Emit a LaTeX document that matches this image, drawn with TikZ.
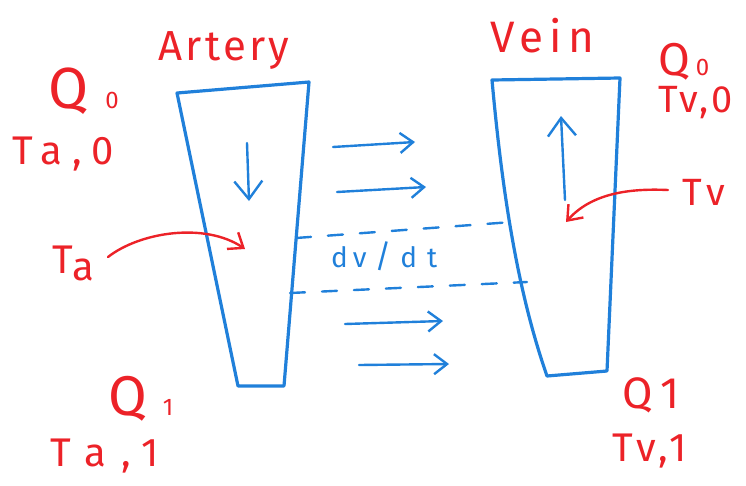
\documentclass[tikz,border=0pt]{standalone}
\usepackage{fontspec}
\setmainfont{Fira Sans}
\newfontfamily\handA[LetterSpace=8]{Fira Sans}
\newfontfamily\handB[LetterSpace=14]{Fira Sans}
\newfontfamily\handC[LetterSpace=25]{Fira Sans}
\newfontfamily\handD[LetterSpace=38]{Fira Sans}
\newfontfamily\handE[LetterSpace=12]{Fira Sans}
\newfontfamily\handF[LetterSpace=15]{Fira Sans}
\newfontfamily\handG[LetterSpace=30]{Fira Sans}
\usetikzlibrary{arrows.meta}
\definecolor{hred}{RGB}{236,34,40}
\definecolor{hblue}{RGB}{32,128,218}
\tikzset{
  vessel/.style={draw=hblue,line width=3.2pt,line join=round,line cap=round},
  flow/.style={hblue,line width=2.4pt,line cap=round,-{Straight Barb[length=13pt,width=20pt,line width=2.4pt]}},
  inner/.style={hblue,line width=2.4pt,line cap=round,-{Straight Barb[length=18pt,width=28pt,line width=2.4pt]}},
  pointer/.style={hred,line width=2.4pt,line cap=round,-{Straight Barb[length=13pt,width=20pt,line width=2.4pt]}},
  exch/.style={hblue,line width=2.4pt,line cap=round,dash pattern=on 15pt off 17pt},
  lbl/.style={text=hred,inner sep=0pt,anchor=base west},
}
\newcommand{\smallo}{{\fontsize{24}{24}\selectfont 0}}
\newcommand{\smallone}{{\fontsize{24}{24}\selectfont 1}}
\begin{document}
\begin{tikzpicture}[x=1pt,y=-1pt]
\useasboundingbox (0,0) rectangle (746,485);
% artery corners
\coordinate (aTL) at (177,93);
\coordinate (aTR) at (309,82);
\coordinate (aBR) at (284,386);
\coordinate (aBL) at (238,386);
% vein corners
\coordinate (vTL) at (492,80);
\coordinate (vTR) at (620,78);
\coordinate (vBR) at (607,371);
\coordinate (vBL) at (547,376);
\draw[vessel] (aTL) -- (aTR) -- (aBR) -- (aBL) -- cycle;
\draw[vessel] (vTR) -- (vTL) .. controls (502,190) and (517,290) .. (vBL) -- (vBR) -- cycle;
% flow inside vessels
\coordinate (aIn1) at (247,143); \coordinate (aIn2) at (249,201);
\draw[inner] (aIn1) -- (aIn2);
\coordinate (vIn1) at (565,200); \coordinate (vIn2) at (561,116);
\draw[inner] (vIn1) -- (vIn2);
% flow arrows between
\coordinate (f1a) at (333,147); \coordinate (f1b) at (415,142);
\coordinate (f2a) at (337,192); \coordinate (f2b) at (426,187);
\coordinate (f3a) at (345,324); \coordinate (f3b) at (443,321);
\coordinate (f4a) at (359,365); \coordinate (f4b) at (449,364);
\draw[flow] (f1a) -- (f1b);
\draw[flow] (f2a) -- (f2b);
\draw[flow] (f3a) -- (f3b);
\draw[flow] (f4a) -- (f4b);
% dashed control volume
\coordinate (d1a) at (296,238); \coordinate (d1b) at (512,222);
\coordinate (d2a) at (290,293); \coordinate (d2b) at (527,282);
\draw[exch] (d1a) -- (d1b);
\draw[exch] (d2a) -- (d2b);
\node[text=hblue,inner sep=0pt,anchor=base west,font=\fontsize{28}{28}\selectfont] (dvdt) at (331,267) {d\hspace{5pt}v\hspace{8pt}{\fontsize{32}{32}\selectfont /}\hspace{9pt}d\hspace{10pt}t};
% labels
\node[lbl,font=\handA\fontsize{42}{42}\selectfont] (artery) at (158,60) {Artery};
\node[lbl,font=\handB\fontsize{44}{44}\selectfont] (vein) at (490,52) {Vein};
\node[lbl,font=\fontsize{58}{58}\selectfont] (qa0) at (48,108) {Q\hspace{17pt}\smallo};
\node[lbl,font=\handC\fontsize{40}{40}\selectfont] (ta0) at (12,164) {Ta,0};
\node[lbl,font=\handG\fontsize{40}{40}\selectfont] (ta) at (52,273) {T\raisebox{-7pt}{a}};
\node[lbl,font=\fontsize{56}{56}\selectfont] (qa1) at (108,415) {Q\hspace{16pt}\smallone};
\node[lbl,font=\handD\fontsize{40}{40}\selectfont] (ta1) at (50,466) {Ta,1};
\node[lbl,font=\fontsize{46}{46}\selectfont] (qv0) at (658,75) {Q\hspace{6pt}\smallo};
\node[lbl,font=\handA\fontsize{38}{38}\selectfont] (tv0) at (658,112) {Tv,0};
\node[lbl,font=\handF\fontsize{38}{38}\selectfont] (tv) at (682,205) {Tv};
\node[lbl,font=\fontsize{44}{44}\selectfont] (qv1) at (622,408) {Q\hspace{8pt}1};
\node[lbl,font=\handE\fontsize{40}{40}\selectfont] (tv1) at (612,461) {Tv,1};
% red pointers
\coordinate (taStart) at (108,257);
\coordinate (taEnd) at (245,249);
\draw[pointer] (taStart) .. controls (140,232) and (205,222) .. (taEnd);
\coordinate (tvStart) at (668,190);
\coordinate (tvEnd) at (566,222);
\draw[pointer] (tvStart) .. controls (625,188) and (590,195) .. (tvEnd);
\end{tikzpicture}
\end{document}
